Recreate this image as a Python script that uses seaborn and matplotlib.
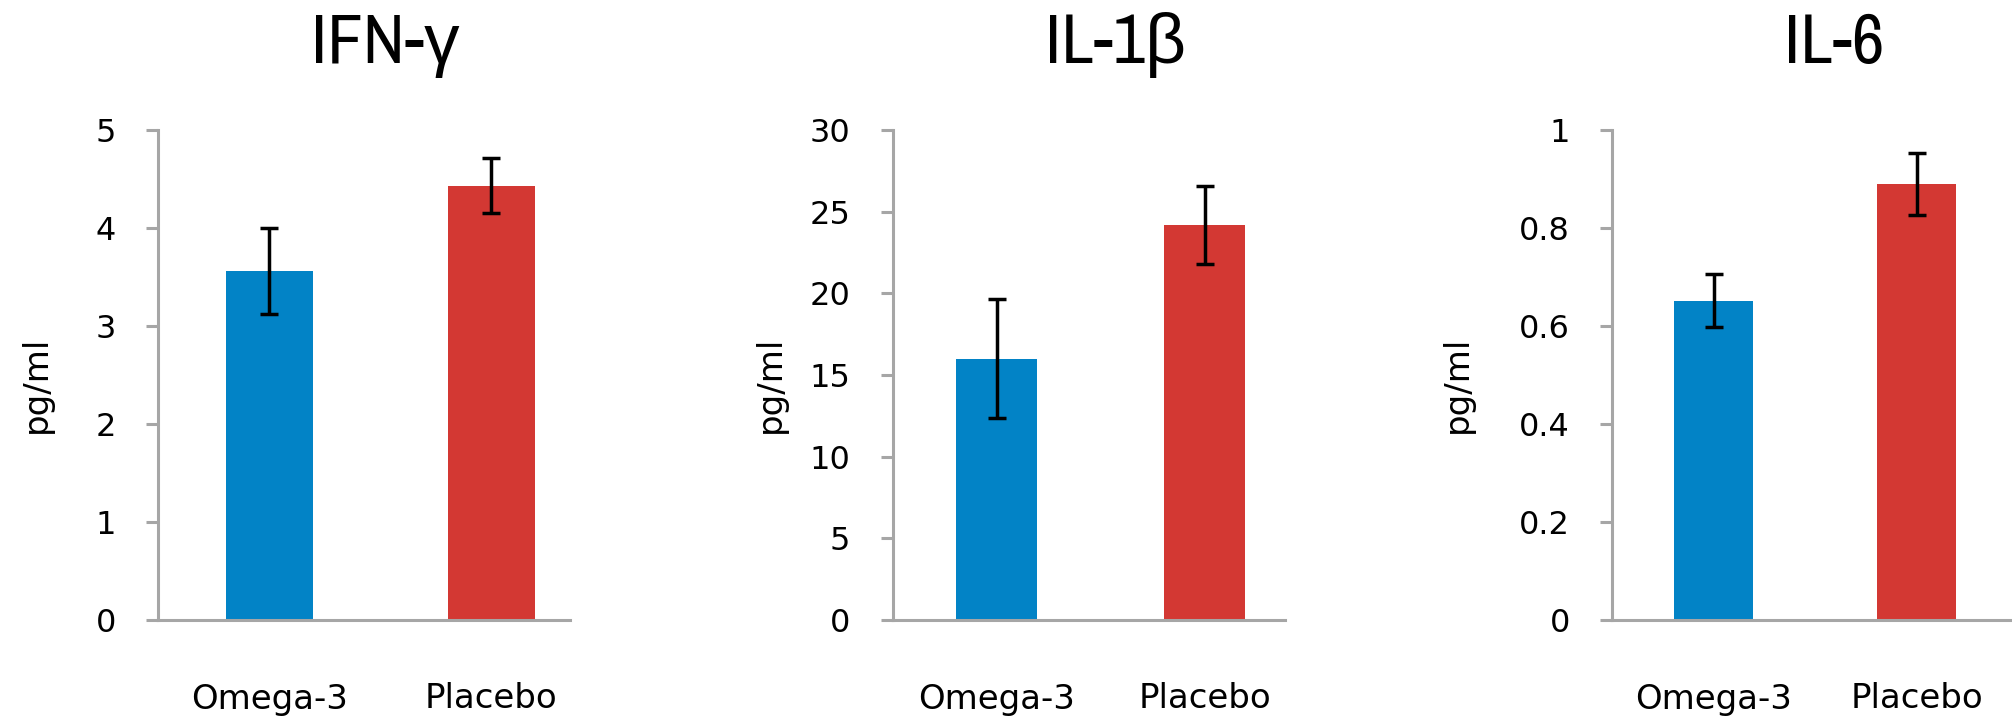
import matplotlib
matplotlib.use("Agg")
import matplotlib.pyplot as plt
import matplotlib.font_manager as fm
import seaborn as sns

# Data
groups = ["Omega-3", "Placebo"]
bar_colors = ["#0283C6", "#D33833"]

ifn_mean = [3.56, 4.43]
ifn_err = [0.44, 0.28]
il1b_mean = [16.0, 24.2]
il1b_err = [3.65, 2.4]
il6_mean = [0.652, 0.890]
il6_err = [0.054, 0.063]

titles = ["IFN-γ", "IL-1β", "IL-6"]
ifn_ticks = [0, 1, 2, 3, 4, 5]
il1b_ticks = [0, 5, 10, 15, 20, 25, 30]
il6_ticks = [0, 0.2, 0.4, 0.6, 0.8, 1.0]
il6_ticklabels = ["0", "0.2", "0.4", "0.6", "0.8", "1"]

sns.set_style("white")
plt.rcParams["font.family"] = ["DejaVu Sans"]
plt.rcParams["text.color"] = "black"
plt.rcParams["axes.labelcolor"] = "black"
plt.rcParams["xtick.labelcolor"] = "black"
plt.rcParams["ytick.labelcolor"] = "black"

# narrow face for the titles, greek letters fall back to Liberation Sans
names = {f.name for f in fm.fontManager.ttflist}
title_family = [n for n in ["Archivo Narrow", "Liberation Sans Narrow"] if n in names][:1]
title_family += ["Liberation Sans", "DejaVu Sans"]

W, H = 2012, 722
fig = plt.figure(figsize=(W / 100, H / 100), dpi=100)

grey = "#A6A6A6"
# pixel layout of each panel: left axis x, category width, right end, title centre, ylabel offset
panels = [
    (ifn_mean, ifn_err, ifn_ticks, [str(t) for t in ifn_ticks], 158.3, 222, 570, 385, -105.5),
    (il1b_mean, il1b_err, il1b_ticks, [str(t) for t in il1b_ticks], 892.7, 208, 1285, 1115, -105.5),
    (il6_mean, il6_err, il6_ticks, il6_ticklabels, 1612.3, 203, 2012, 1834, -138),
]

for i, (means, errs, yt, ytl, x0, cw, xend, tcx, lab_off) in enumerate(panels):
    wpx = xend - x0
    ax = fig.add_axes([x0 / W, (H - 620) / H, wpx / W, 490 / H])

    sns.barplot(x=groups, y=means, hue=groups, palette=bar_colors, width=0.39,
                saturation=1, linewidth=0, legend=False, ax=ax)
    ax.errorbar([0, 1], means, yerr=errs, fmt="none", ecolor="black",
                elinewidth=2.5, capsize=6.3, capthick=2.5, zorder=3)

    ax.set_xlim(-0.5, wpx / cw - 0.5)
    ax.set_ylim(0, yt[-1])

    # category boundary ticks (major) and centred labels (minor)
    ax.set_xticks([-0.5, 0.5])
    ax.set_xticklabels([])
    ax.set_xticks([0, 1], minor=True)
    ax.set_xticklabels(groups, minor=True)
    ax.tick_params(axis="x", which="major", length=9.4, width=2.2, color=grey, direction="out")
    ax.tick_params(axis="x", which="minor", length=0, labelsize=24.5, pad=45)

    ax.set_yticks(yt)
    ax.set_yticklabels(ytl)
    ax.tick_params(axis="y", length=8.6, width=2.2, color=grey, direction="out",
                   labelsize=23, pad=22, left=True)

    for side in ["top", "right"]:
        ax.spines[side].set_visible(False)
    for side in ["left", "bottom"]:
        ax.spines[side].set_color(grey)
        ax.spines[side].set_linewidth(2.2)

    ax.set_xlabel("")
    ax.set_ylabel("pg/ml", fontsize=24.5)
    ax.yaxis.set_label_coords(lab_off / wpx, 0.48)

    fig.text(tcx / W, (H - 63) / H, titles[i], ha="center", va="baseline",
             fontsize=51, family=title_family)

fig.savefig("out.png", dpi=100)
